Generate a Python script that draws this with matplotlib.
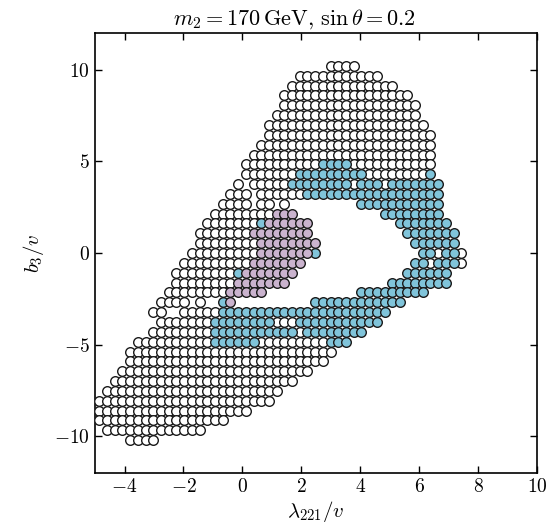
import matplotlib
matplotlib.use("Agg")
import matplotlib.pyplot as plt

plt.rcParams['mathtext.fontset'] = 'cm'
plt.rcParams['font.family'] = 'serif'
plt.rcParams['font.serif'] = ['DejaVu Serif']

# scan grid: lambda_221/v columns and b3/v rows (top row first)
lam_grid = [-4.85, -4.59, -4.33, -4.07, -3.80, -3.54, -3.28, -3.02, -2.76, -2.50,
            -2.24, -1.98, -1.71, -1.45, -1.19, -0.93, -0.67, -0.41, -0.15, 0.11,
            0.38, 0.64, 0.90, 1.16, 1.42, 1.68, 1.94, 2.20, 2.47, 2.73,
            2.99, 3.25, 3.51, 3.77, 4.03, 4.29, 4.56, 4.82, 5.08, 5.34,
            5.60, 5.86, 6.12, 6.38, 6.65, 6.91, 7.17, 7.43]
b3_grid = [10.20, 9.67, 9.13, 8.59, 8.06, 7.52, 6.98, 6.44, 5.91, 5.37,
           4.83, 4.30, 3.76, 3.22, 2.69, 2.15, 1.61, 1.07, 0.54, 0.00,
           -0.54, -1.07, -1.61, -2.15, -2.69, -3.22, -3.76, -4.30, -4.83, -5.37,
           -5.91, -6.44, -6.98, -7.52, -8.06, -8.59, -9.13, -9.67, -10.20]

# (row, first column, last column) of each run of points
white_runs = [
    (0, 30, 33), (1, 26, 36), (2, 25, 38), (3, 24, 40), (4, 24, 41),
    (5, 23, 41), (6, 22, 42), (7, 22, 43), (8, 21, 43), (9, 20, 43),
    (10, 19, 28), (10, 33, 43),
    (11, 19, 25), (11, 35, 42),
    (12, 18, 18), (12, 20, 24), (12, 33, 33), (12, 37, 37),
    (13, 17, 19), (13, 21, 26),
    (14, 16, 19), (14, 21, 22), (14, 24, 24),
    (15, 15, 22), (16, 14, 20), (17, 13, 19), (18, 13, 20),
    (19, 12, 20), (19, 44, 44), (19, 47, 47),
    (20, 11, 19), (20, 43, 43), (20, 47, 47),
    (21, 10, 17), (22, 10, 17), (23, 9, 16),
    (24, 8, 11), (24, 13, 13),
    (25, 7, 8), (25, 11, 15),
    (26, 8, 14), (26, 23, 25),
    (27, 7, 14), (27, 26, 26),
    (28, 5, 14), (28, 21, 29),
    (29, 4, 30), (30, 4, 29), (31, 3, 27), (32, 2, 25), (33, 1, 23),
    (34, 0, 22), (35, 0, 19), (36, 0, 16), (37, 1, 13), (38, 4, 7),
]
blue_runs = [
    (10, 29, 32),
    (11, 26, 34), (11, 43, 43),
    (12, 25, 32), (12, 34, 36), (12, 38, 44),
    (13, 27, 44), (14, 34, 44), (15, 37, 44),
    (16, 21, 21), (16, 39, 45),
    (17, 40, 46), (18, 41, 46),
    (19, 28, 28), (19, 42, 43), (19, 45, 46),
    (20, 41, 42), (20, 44, 46),
    (21, 18, 18), (21, 40, 45),
    (22, 38, 45), (23, 34, 42),
    (24, 16, 16), (24, 28, 39),
    (25, 16, 37),
    (26, 15, 22), (26, 26, 36),
    (27, 15, 25), (27, 27, 34),
    (28, 15, 20), (28, 30, 32),
]
pink_runs = [
    (15, 23, 25), (16, 22, 27), (17, 20, 27), (18, 21, 28), (19, 21, 27),
    (20, 20, 26), (21, 19, 25), (22, 18, 24), (23, 17, 21), (24, 17, 17),
]


def points(runs):
    xs, ys = [], []
    for row, c0, c1 in runs:
        for c in range(c0, c1 + 1):
            xs.append(lam_grid[c])
            ys.append(b3_grid[row])
    return xs, ys


fig = plt.figure(figsize=(5.59, 5.31), dpi=100)
ax = fig.add_axes([0.170, 0.109, 0.791, 0.829])

for runs, color in [(white_runs, 'white'), (blue_runs, '#80c4da'), (pink_runs, '#cab3ce')]:
    xs, ys = points(runs)
    ax.scatter(xs, ys, s=48, c=color, edgecolors='#1a1a1a', linewidths=1.0, zorder=3)

ax.set_xlim(-5, 10)
ax.set_ylim(-12, 12)
xt = [-4, -2, 0, 2, 4, 6, 8, 10]
yt = [-10, -5, 0, 5, 10]
ax.set_xticks(xt)
ax.set_xticklabels(['$%d$' % t for t in xt])
ax.set_yticks(yt)
ax.set_yticklabels(['$%d$' % t for t in yt])
ax.tick_params(direction='in', top=True, right=True, length=5, width=1, labelsize=14)
for sp in ax.spines.values():
    sp.set_linewidth(1.2)

ax.set_xlabel(r'$\lambda_{221}/v$', fontsize=15, labelpad=2)
ax.set_ylabel(r'$b_3/v$', fontsize=15, labelpad=6)
ax.set_title(r'$m_2 = 170\,\mathrm{GeV},\,\sin\theta = 0.2$', fontsize=16, pad=6, x=0.45)

fig.savefig('out.png', dpi=100)
